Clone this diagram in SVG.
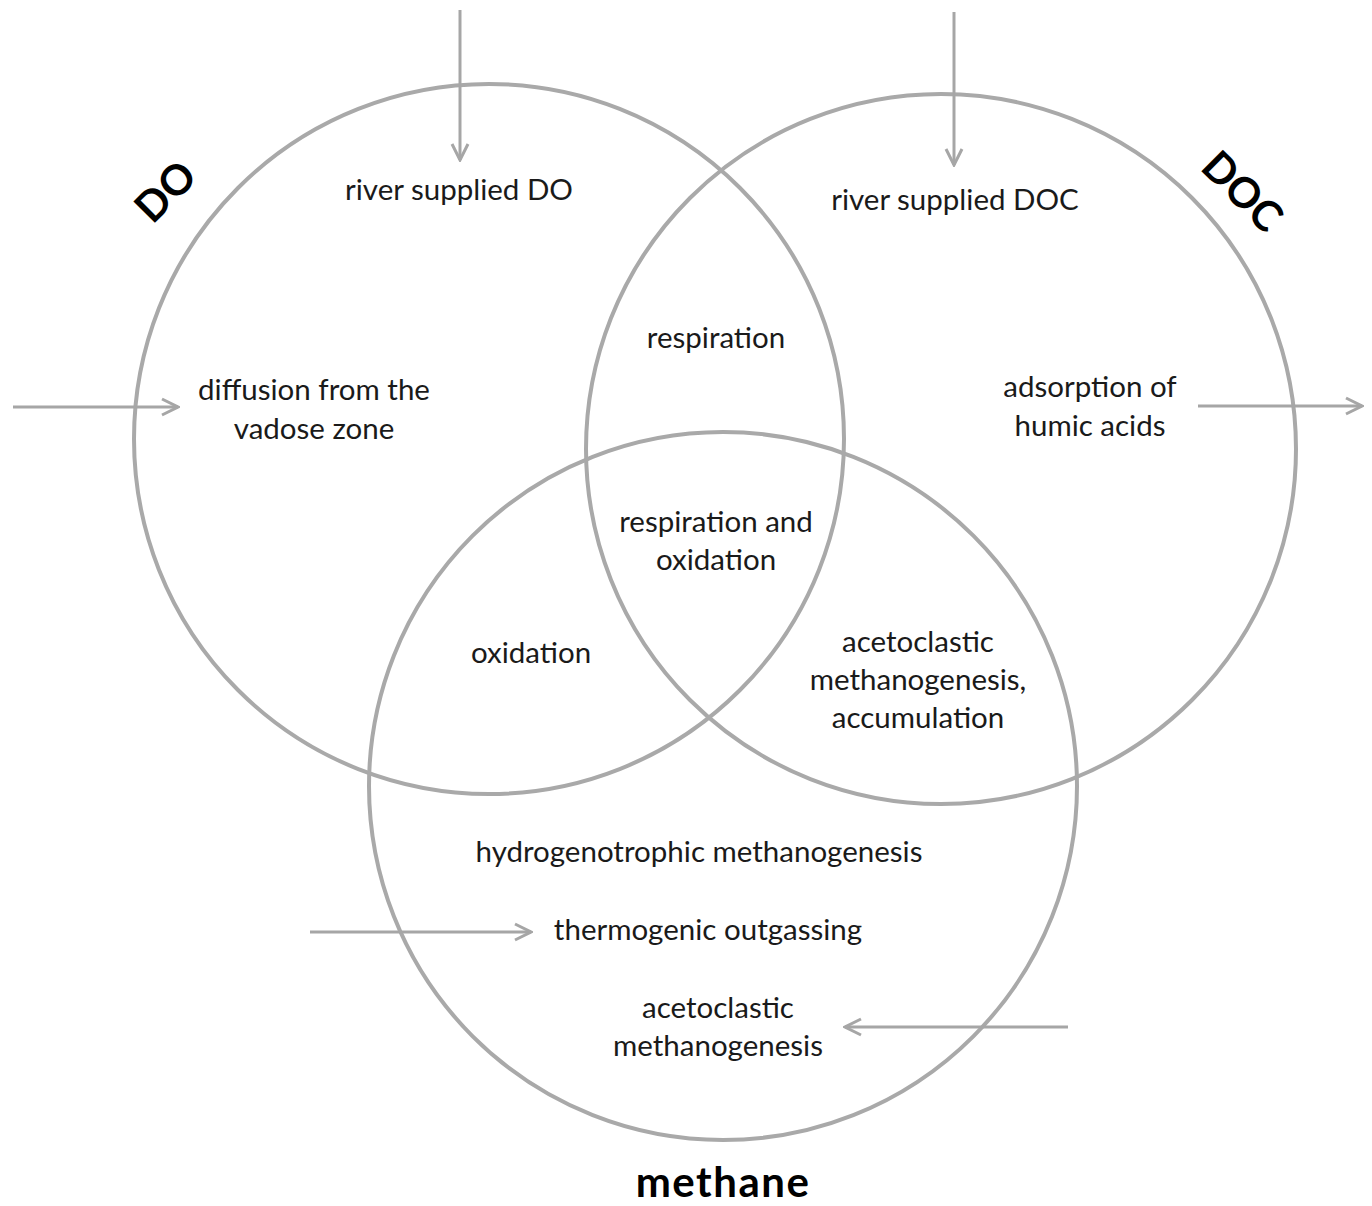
<svg xmlns="http://www.w3.org/2000/svg" width="1372" height="1206" viewBox="0 0 1372 1206">
<defs>
<style>
.c{fill:none;stroke:#a9a9a9;stroke-width:4}
.a{fill:none;stroke:#a6a6a6;stroke-width:3}
.t{font-family:Lato,"Open Sans",sans-serif;font-size:29.5px;fill:#1a1a1a;text-anchor:middle}
.b{font-family:Lato,"Open Sans",sans-serif;font-size:42px;font-weight:bold;fill:#000;text-anchor:middle}
</style>
<marker id="h" viewBox="0 0 20 20" refX="18" refY="10" markerWidth="20" markerHeight="20" markerUnits="userSpaceOnUse" orient="auto">
<path d="M2,2 L18,10 L2,18" fill="none" stroke="#a6a6a6" stroke-width="3"/>
</marker>
</defs>
<rect width="1372" height="1206" fill="#fff"/>
<g id="circle-DO"><circle class="c" cx="489" cy="439" r="355"/></g>
<g id="circle-DOC"><circle class="c" cx="941" cy="449" r="355"/></g>
<g id="circle-methane"><circle class="c" cx="723" cy="786" r="354"/></g>
<g id="connectors">
<line class="a" x1="460" y1="10" x2="460" y2="160" marker-end="url(#h)"/>
<line class="a" x1="954" y1="12" x2="954" y2="165" marker-end="url(#h)"/>
<line class="a" x1="13" y1="407" x2="178" y2="407" marker-end="url(#h)"/>
<line class="a" x1="1198" y1="406" x2="1362" y2="406" marker-end="url(#h)"/>
<line class="a" x1="310" y1="932" x2="531" y2="932" marker-end="url(#h)"/>
<line class="a" x1="1068" y1="1027" x2="845" y2="1027" marker-end="url(#h)"/>
</g>
<g id="label-DO"><text class="b" transform="translate(166,192) rotate(-45)" dy="14">DO</text></g>
<g id="label-DOC"><text class="b" transform="translate(1242,192) rotate(45)" dy="14">DOC</text></g>
<g id="label-methane"><text class="b" x="723" y="1197" letter-spacing="1.5">methane</text></g>
<g id="n-river-DO"><text class="t" x="459" y="200">river supplied DO</text></g>
<g id="n-river-DOC"><text class="t" x="955" y="210">river supplied DOC</text></g>
<g id="n-respiration"><text class="t" x="716" y="348">respiration</text></g>
<g id="n-diffusion"><text class="t" x="314" y="400">diffusion from the</text><text class="t" x="314" y="439">vadose zone</text></g>
<g id="n-adsorption"><text class="t" x="1090" y="397">adsorption of</text><text class="t" x="1090" y="436">humic acids</text></g>
<g id="n-resp-ox"><text class="t" x="716" y="532">respiration and</text><text class="t" x="716" y="570">oxidation</text></g>
<g id="n-oxidation"><text class="t" x="531" y="663">oxidation</text></g>
<g id="n-aceto-acc"><text class="t" x="918" y="652">acetoclastic</text><text class="t" x="918" y="690">methanogenesis,</text><text class="t" x="918" y="728">accumulation</text></g>
<g id="n-hydro"><text class="t" x="699" y="862">hydrogenotrophic methanogenesis</text></g>
<g id="n-thermo"><text class="t" x="708" y="940">thermogenic outgassing</text></g>
<g id="n-aceto"><text class="t" x="718" y="1018">acetoclastic</text><text class="t" x="718" y="1056">methanogenesis</text></g>
</svg>
